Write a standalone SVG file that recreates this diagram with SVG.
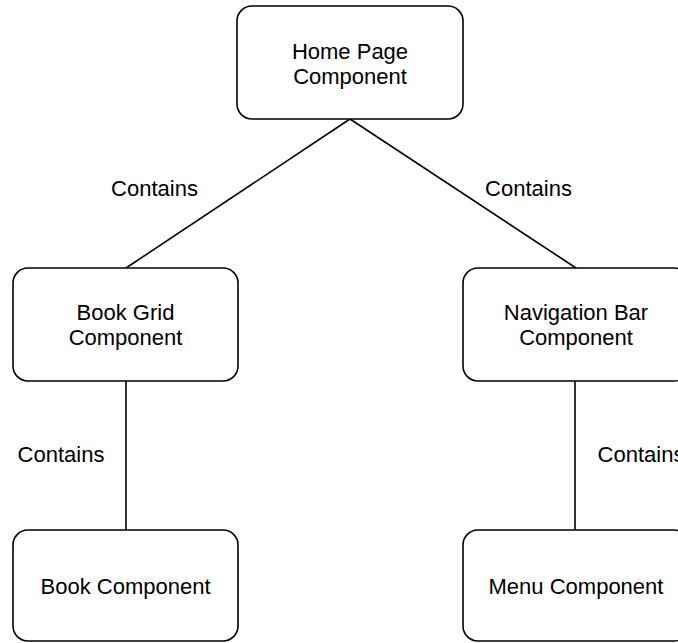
<svg xmlns="http://www.w3.org/2000/svg" width="678" height="643" viewBox="0 0 678 643">
<style>
.box{fill:#fff;stroke:#000;stroke-width:1.6}
.lbl{font-family:"Liberation Sans",Arial,Helvetica,sans-serif;font-size:22px;fill:#000;text-anchor:middle}
.edge{stroke:#000;stroke-width:1.6;fill:none}
</style>
<rect width="678" height="643" fill="#fff"/>
<g id="connectors">
<line class="edge" x1="350" y1="119" x2="126" y2="268"/>
<line class="edge" x1="350" y1="119" x2="576" y2="268"/>
<line class="edge" x1="126" y1="381" x2="126" y2="530"/>
<line class="edge" x1="575" y1="381" x2="575" y2="530"/>
<text class="lbl" x="154.5" y="196">Contains</text>
<text class="lbl" x="528.5" y="196">Contains</text>
<text class="lbl" x="61" y="462">Contains</text>
<text class="lbl" x="641" y="462">Contains</text>
</g>
<g id="home">
<rect class="box" x="237" y="6" width="226" height="113" rx="15"/>
<text class="lbl" x="350" y="59">Home Page</text>
<text class="lbl" x="350" y="84">Component</text>
</g>
<g id="bookgrid">
<rect class="box" x="13" y="268" width="225" height="113" rx="15"/>
<text class="lbl" x="125.5" y="320">Book Grid</text>
<text class="lbl" x="125.5" y="345">Component</text>
</g>
<g id="navbar">
<rect class="box" x="463" y="268" width="226" height="113" rx="15"/>
<text class="lbl" x="576" y="320">Navigation Bar</text>
<text class="lbl" x="576" y="345">Component</text>
</g>
<g id="book">
<rect class="box" x="13" y="530" width="225" height="111" rx="15"/>
<text class="lbl" x="125.5" y="594">Book Component</text>
</g>
<g id="menu">
<rect class="box" x="463" y="530" width="226" height="111" rx="15"/>
<text class="lbl" x="576" y="594">Menu Component</text>
</g>
</svg>
